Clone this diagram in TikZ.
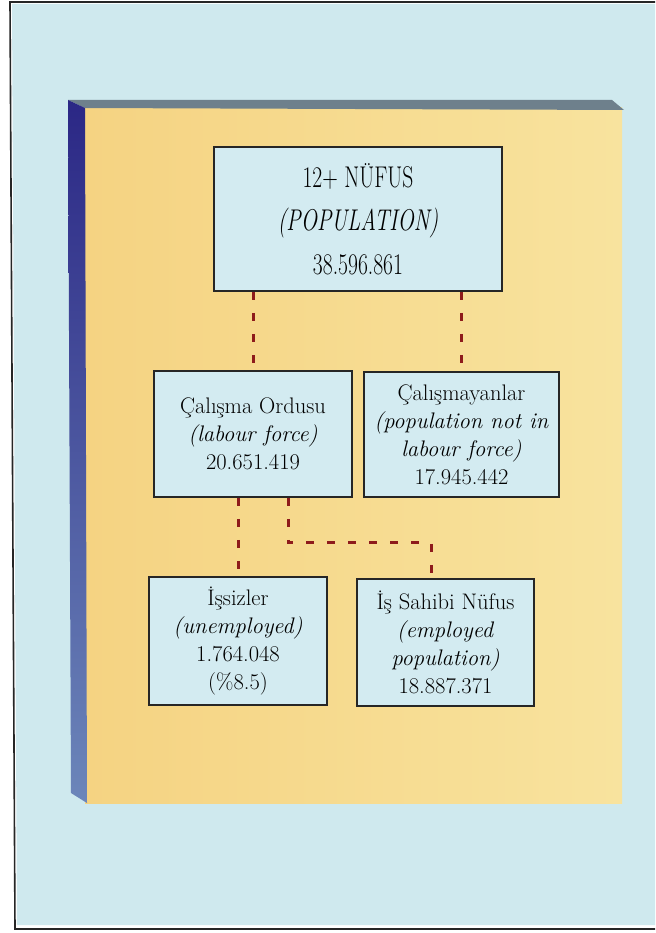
\documentclass[tikz,border=0pt]{standalone}
\usepackage{fontspec}
\usepackage{graphicx}
\usetikzlibrary{positioning}

\definecolor{sky}{HTML}{CFE9EE}
\definecolor{boardL}{HTML}{F5D382}
\definecolor{boardR}{HTML}{F8E39E}
\definecolor{boxfill}{HTML}{D3EBF1}
\definecolor{linkred}{HTML}{8E1B1B}
\definecolor{edgetop}{HTML}{6E808C}
\definecolor{edgeA}{HTML}{2B2785}
\definecolor{edgeB}{HTML}{6C86BA}

\newcommand{\squeeze}[1]{\scalebox{0.72}[1]{#1}}

\begin{document}
\begin{tikzpicture}[x=1pt,y=-1pt,
    box/.style={draw=black!85, line width=1.6pt, fill=boxfill, align=center, inner sep=0pt, text=black},
    small/.style={font=\fontsize{22.5}{28}\selectfont},
    link/.style={draw=linkred, line width=3pt, dash pattern=on 8pt off 13pt}]
  \fill[white] (0,0) rectangle (655,933);
  \useasboundingbox (0,0) rectangle (655,933);
  \fill[sky] (12,4) -- (655,4) -- (655,925) -- (17,925) -- cycle;
  \draw[line width=1.6pt, black!85] (655,2) -- (10,2) -- (15,929) -- (655,929);
  % board
  \shade[left color=boardL, right color=boardR] (85,108) rectangle (622,803);
  \fill[edgetop] (68,100) -- (612,100) -- (624,110) -- (85,108) -- cycle;
  \shade[top color=edgeA, bottom color=edgeB] (68,100) -- (85,108) -- (87,803) -- (71,793) -- cycle;
  % boxes
  \node[box, minimum width=288pt, minimum height=144pt,
        font=\fontsize{30}{43.5}\selectfont] (pop) at (358,219)
        {\squeeze{12+ NÜFUS}\\\squeeze{\textit{(POPULATION)}}\\\squeeze{38.596.861}};
  \node[box, small, minimum width=198pt, minimum height=126pt] (lab) at (253,434)
        {Çalışma Ordusu\\\textit{(labour force)}\\20.651.419};
  \node[box, small, minimum width=195pt, minimum height=125pt] (nonlab) at (461.5,434.5)
        {Çalışmayanlar\\\textit{(population not in}\\\textit{labour force)}\\17.945.442};
  \node[box, small, minimum width=178pt, minimum height=128pt] (unemp) at (238,641)
        {İşsizler\\\textit{(unemployed)}\\1.764.048\\(\%8.5)};
  \node[box, small, minimum width=177pt, minimum height=127pt] (emp) at (445.5,642.5)
        {İş Sahibi Nüfus\\\textit{(employed}\\\textit{population)}\\18.887.371};
  % dashed links
  \draw[link] (pop.south -| lab.north) -- (lab.north);
  \draw[link] (pop.south -| nonlab.north) -- (nonlab.north);
  \draw[link] (lab.south -| unemp.north) -- (unemp.north);
  \draw[link] ([xshift=35pt]lab.south) -- ++(0,45) -| ([xshift=-14.5pt]emp.north);
\end{tikzpicture}
\end{document}
